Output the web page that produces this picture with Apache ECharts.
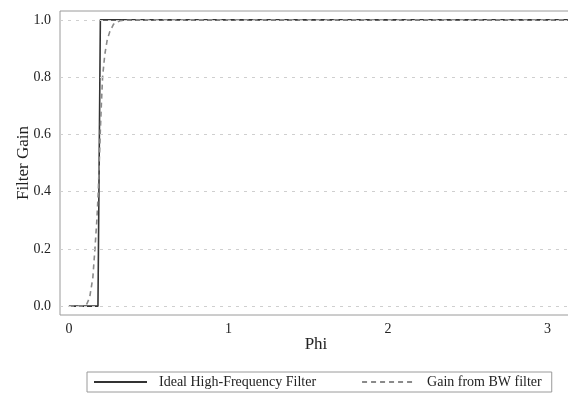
<!DOCTYPE html>
<html><head><meta charset="utf-8">
<script src="https://cdn.jsdelivr.net/npm/echarts@6/dist/echarts.min.js"></script>
<style>html,body{margin:0;padding:0;background:#fff}#c{width:568px;height:394px}</style>
</head><body><div id="c"></div>
<script>
const seriesNames = ['Ideal High-Frequency Filter', 'Gain from BW filter'];
const idealPhi = [0, 0.182, 0.197, 3.1416];
const idealGain = [0, 0, 1, 1];
const bwPhi = [0, 0.08, 0.11, 0.13, 0.15, 0.163, 0.175, 0.184, 0.19, 0.196, 0.203, 0.211, 0.225, 0.24, 0.257, 0.28, 0.32, 0.4, 3.1416];
const bwGain = [0, 0, 0.005, 0.03, 0.1, 0.2, 0.3, 0.4, 0.5, 0.6, 0.7, 0.8, 0.88, 0.93, 0.96, 0.985, 0.997, 1, 1];
const xTicks = [0, 1, 2, 3];
const yTicks = [0, 0.2, 0.4, 0.6, 0.8, 1.0];

const font = 'Liberation Serif';
const chart = echarts.init(document.getElementById('c'), null, {renderer: 'canvas'});
chart.setOption({
  animation: false,
  textStyle: {fontFamily: font},
  grid: {left: 60, top: 11, right: -4, bottom: 79, outerBoundsMode: 'none', containLabel: false,
         show: true, borderColor: '#9a9a9a', borderWidth: 1},
  xAxis: {
    type: 'value', min: -0.056, max: 3.154,
    name: 'Phi', nameLocation: 'middle', nameGap: 21, nameMoveOverlap: false,
    nameTextStyle: {fontFamily: font, fontSize: 17, color: '#222'},
    axisLine: {show: false}, axisTick: {show: false}, splitLine: {show: false},
    axisLabel: {customValues: xTicks, fontFamily: font, fontSize: 14, color: '#222', margin: 7, formatter: v => String(v)}
  },
  yAxis: {
    type: 'value', min: -0.031, max: 1.031,
    name: 'Filter Gain', nameLocation: 'middle', nameGap: 28, nameMoveOverlap: false,
    nameTextStyle: {fontFamily: font, fontSize: 17, color: '#222'},
    axisLine: {show: false}, axisTick: {show: false}, splitLine: {show: false},
    axisLabel: {customValues: yTicks, fontFamily: font, fontSize: 14, color: '#222', margin: 9, formatter: v => v.toFixed(1)}
  },
  legend: {
    left: 87, bottom: 2,
    borderColor: '#9a9a9a', borderWidth: 1, borderRadius: 0,
    padding: [3, 10, 3, 6],
    itemWidth: 53, itemHeight: 14, itemGap: 45,
    itemStyle: {opacity: 0},
    textStyle: {fontFamily: font, fontSize: 14, color: '#222', padding: [0, 0, 0, 7]},
    data: seriesNames
  },
  series: [
    {
      name: seriesNames[0], type: 'line', symbol: 'none', clip: true,
      data: idealPhi.map((p, i) => [p, idealGain[i]]),
      lineStyle: {color: '#333', width: 1.6, type: 'solid'}, itemStyle: {color: '#333'},
      z: 3,
      markLine: {
        silent: true, symbol: 'none', label: {show: false}, animation: false,
        lineStyle: {color: '#cfcfcf', width: 1, type: [3, 5]},
        data: yTicks.map(v => ({yAxis: v}))
      }
    },
    {
      name: seriesNames[1], type: 'line', symbol: 'none', clip: true,
      data: bwPhi.map((p, i) => [p, bwGain[i]]),
      lineStyle: {color: '#8a8a8a', width: 1.6, type: [5, 4]}, itemStyle: {color: '#8a8a8a'},
      z: 4
    }
  ]
});
</script></body></html>
